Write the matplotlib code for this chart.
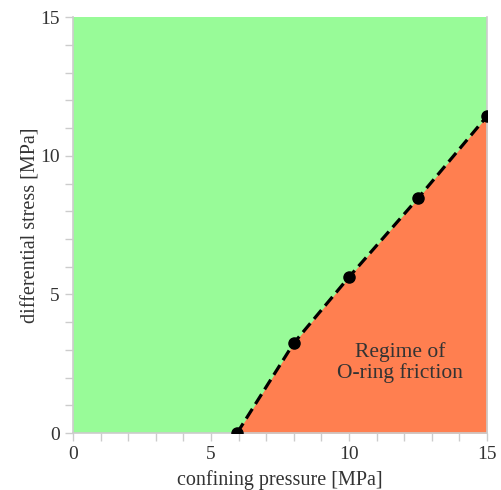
import matplotlib
matplotlib.use("Agg")
from matplotlib import pyplot as plt
from matplotlib.ticker import MultipleLocator

# boundary between the two regimes
pressure = [5.94, 8.0, 10.0, 12.5, 15.0]
stress = [0.0, 3.25, 5.63, 8.47, 11.43]

plt.rcParams['font.family'] = ['Liberation Serif', 'DejaVu Serif']

fig = plt.figure(figsize=(5.01, 4.9), dpi=100)
ax = fig.add_axes([0.146, 0.116, 0.826, 0.849])
ax.set_xlim(0, 15)
ax.set_ylim(0, 15)

ax.set_facecolor('#98fb98')
ax.fill_between(pressure, 0, stress, color='#ff7f50', lw=0, zorder=1)
ax.plot(pressure, stress, color='black', lw=2.3, ls=(0, (3.6, 1.8)),
        marker='o', ms=8, zorder=3)

ax.text(11.85, 2.55, 'Regime of\nO-ring friction', ha='center', va='center',
        fontsize=15.5, color='#333333', linespacing=1.1)

ax.xaxis.set_major_locator(MultipleLocator(5))
ax.yaxis.set_major_locator(MultipleLocator(5))
ax.xaxis.set_minor_locator(MultipleLocator(1))
ax.yaxis.set_minor_locator(MultipleLocator(1))
ax.spines['top'].set_visible(False)
for s in ['left', 'bottom', 'right']:
    ax.spines[s].set_color('#cccccc')
    ax.spines[s].set_linewidth(1.2)
ax.tick_params(which='both', direction='out', color='#cccccc', labelsize=14,
               labelcolor='#333333', length=6, width=1)
ax.set_xlabel('confining pressure [MPa]', fontsize=14.5, color='#333333', labelpad=5)
ax.set_ylabel('differential stress [MPa]', fontsize=14.5, color='#333333', labelpad=0)

fig.savefig('out.png', dpi=100)
